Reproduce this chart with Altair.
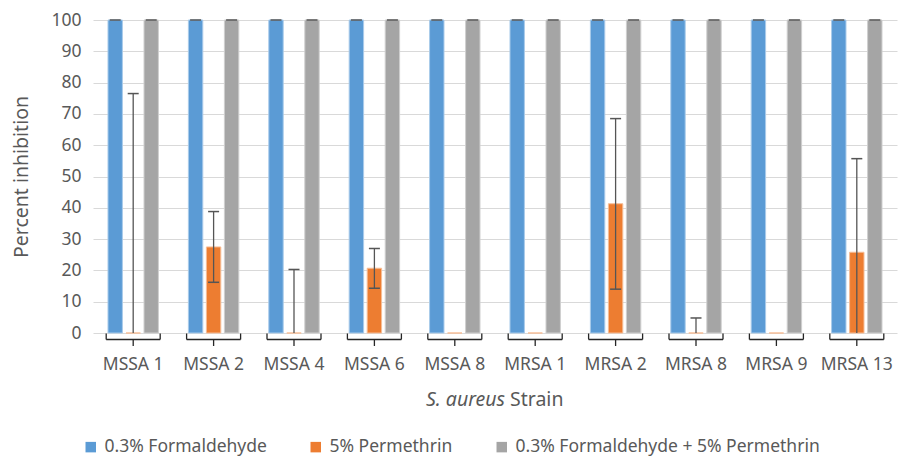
import altair as alt
import pandas as pd

strains = ["MSSA 1", "MSSA 2", "MSSA 4", "MSSA 6", "MSSA 8",
           "MRSA 1", "MRSA 2", "MRSA 8", "MRSA 9", "MRSA 13"]
series = ["0.3% Formaldehyde", "5% Permethrin", "0.3% Formaldehyde + 5% Permethrin"]

formaldehyde = [100, 100, 100, 100, 100, 100, 100, 100, 100, 100]
permethrin = [0, 27.5, 0, 20.7, 0, 0, 41.3, 0, 0, 25.8]
combined = [100, 100, 100, 100, 100, 100, 100, 100, 100, 100]

form_lo = [100, 100, 100, 100, 100, 100, 100, 100, 100, 100]
form_hi = [100, 100, 100, 100, 100, 100, 100, 100, 100, 100]
perm_lo = [0, 16.2, 0, 14.3, 0, 0, 14.0, 0, 0, 0]
perm_hi = [76.5, 38.8, 20.3, 27.0, 0, 0, 68.5, 4.8, 0, 55.7]
comb_lo = [100, 100, 100, 100, 100, 100, 100, 100, 100, 100]
comb_hi = [100, 100, 100, 100, 100, 100, 100, 100, 100, 100]

colors = ["#5B9BD5", "#ED7D31", "#A5A5A5"]
edges = ["#A9CBEA", "#F6BE98", "#CFCFCF"]

rows = []
for s, vals, los, his in [(series[0], formaldehyde, form_lo, form_hi),
                          (series[1], permethrin, perm_lo, perm_hi),
                          (series[2], combined, comb_lo, comb_hi)]:
    for st, v, lo, hi in zip(strains, vals, los, his):
        rows.append({"strain": st, "series": s, "value": v, "lo": lo, "hi": hi})
df = pd.DataFrame(rows)

FONT = "Noto Sans"
TXT = "#595959"
ERR = "#555555"
BRK = "#262626"

xenc = alt.X("strain:N", sort=strains,
             scale=alt.Scale(paddingInner=0.328, paddingOuter=0.164),
             axis=alt.Axis(title=None, labelAngle=0, domain=False, ticks=False,
                           grid=False, labelPadding=22, labelFont=FONT,
                           labelFontSize=17.5, labelColor=TXT))
xoff = alt.XOffset("series:N", sort=series,
                   scale=alt.Scale(domain=series, paddingInner=0.2, paddingOuter=0.1))
yaxis = alt.Axis(title="Percent inhibition", values=list(range(0, 101, 10)),
                 domain=False, ticks=False, labelPadding=12, labelFont=FONT,
                 labelFontSize=17.5, labelColor=TXT, titleFont=FONT,
                 titleFontSize=19.5, titleFontWeight="normal", titleColor=TXT,
                 titlePadding=19, gridColor="#D9D9D9", gridWidth=1)
yscale = alt.Scale(domain=[0, 100], nice=False)

base = alt.Chart(df)

bars = base.mark_bar(strokeWidth=1).encode(
    x=xenc, xOffset=xoff,
    y=alt.Y("value:Q", scale=yscale, axis=yaxis),
    color=alt.Color("series:N", sort=series,
                    scale=alt.Scale(domain=series, range=colors),
                    legend=alt.Legend(title=None, orient="none", legendX=-11,
                                      legendY=418, direction="horizontal",
                                      labelFont=FONT, labelFontSize=17.5,
                                      labelColor=TXT, symbolType="square",
                                      symbolSize=110, symbolStrokeWidth=0,
                                      columnPadding=40, labelOffset=5,
                                      labelLimit=0, padding=0)),
    stroke=alt.Stroke("series:N", sort=series,
                      scale=alt.Scale(domain=series, range=edges), legend=None),
)

rules = base.transform_filter("datum.hi > datum.lo").mark_rule(
    color=ERR, strokeWidth=1.3).encode(
    x=xenc, xOffset=xoff,
    y=alt.Y("lo:Q", scale=yscale, axis=yaxis), y2="hi:Q")

ucaps = base.transform_filter("datum.hi > 0").mark_tick(
    orient="horizontal", size=11, thickness=1.5, color=ERR, opacity=1).encode(
    x=xenc, xOffset=xoff, y=alt.Y("hi:Q", scale=yscale, axis=yaxis))

lcaps = base.transform_filter("datum.lo > 0 && datum.lo < 100").mark_tick(
    orient="horizontal", size=11, thickness=1.5, color=ERR, opacity=1).encode(
    x=xenc, xOffset=xoff, y=alt.Y("lo:Q", scale=yscale, axis=yaxis))

bdf = pd.DataFrame({"strain": strains})
bbase = alt.Chart(bdf)
b_h = bbase.mark_tick(orient="horizontal", size=54, thickness=1.3,
                      color=BRK, opacity=1).encode(x=xenc, y=alt.value(319.5))
b_l = bbase.mark_rule(color=BRK, strokeWidth=1.3, xOffset=-27).encode(
    x=xenc, y=alt.value(313.5), y2=alt.value(319.5))
b_r = bbase.mark_rule(color=BRK, strokeWidth=1.3, xOffset=27).encode(
    x=xenc, y=alt.value(313.5), y2=alt.value(319.5))
b_c = bbase.mark_rule(color=BRK, strokeWidth=1.3).encode(
    x=xenc, y=alt.value(319.5), y2=alt.value(326))

t1 = alt.Chart(pd.DataFrame({"t": ["S. aureus"]})).mark_text(
    align="right", baseline="middle", font=FONT, fontSize=19.5,
    fontStyle="italic", color=TXT).encode(
    text="t:N", x=alt.value(412), y=alt.value(380))
t2 = alt.Chart(pd.DataFrame({"t": ["Strain"]})).mark_text(
    align="left", baseline="middle", font=FONT, fontSize=19.5,
    color=TXT).encode(
    text="t:N", x=alt.value(417), y=alt.value(380))

chart = alt.layer(bars, rules, ucaps, lcaps, b_h, b_l, b_r, b_c, t1, t2).properties(
    width=804, height=313,
    padding={"left": 85, "top": 12, "right": 1, "bottom": 123},
    autosize=alt.AutoSizeParams(type="none"),
).configure_view(stroke=None)

chart.save("out.html", embed_options={"renderer": "svg", "actions": False})
